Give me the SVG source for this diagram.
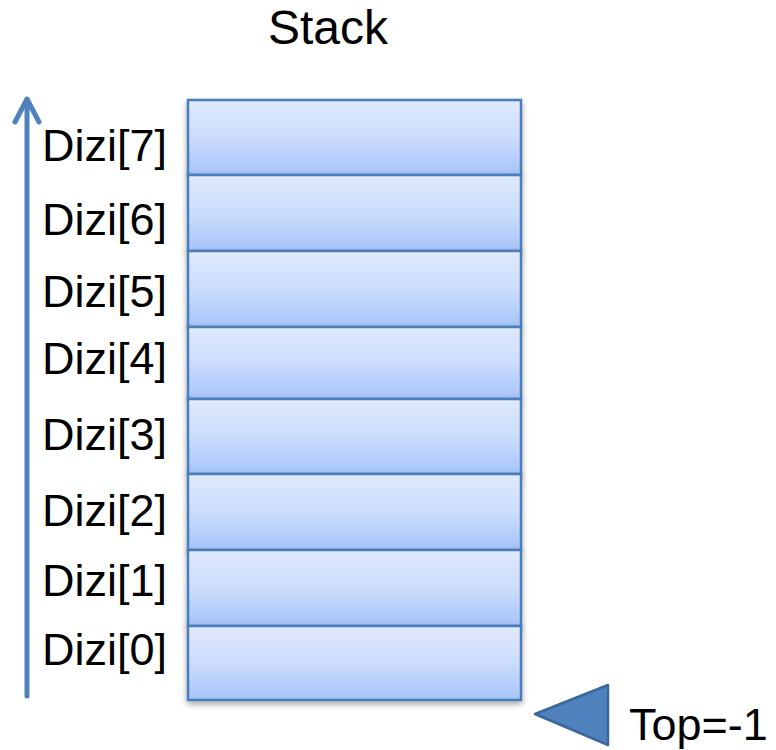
<svg xmlns="http://www.w3.org/2000/svg" width="776" height="750" viewBox="0 0 776 750">
<defs>
<linearGradient id="g" x1="0" y1="0" x2="0" y2="1">
<stop offset="0" stop-color="#e1eafd"/>
<stop offset="0.5" stop-color="#cbdcfc"/>
<stop offset="1" stop-color="#a6c4fa"/>
</linearGradient>
<filter id="sh" x="-10%" y="-20%" width="120%" height="150%">
<feGaussianBlur in="SourceAlpha" stdDeviation="3"/>
<feOffset dx="0" dy="3" result="b"/>
<feComponentTransfer><feFuncA type="linear" slope="0.35"/></feComponentTransfer>
<feMerge><feMergeNode/><feMergeNode in="SourceGraphic"/></feMerge>
</filter>
</defs>
<style>
.cell{fill:url(#g);stroke:#4a7ebb;stroke-width:2.5;filter:url(#sh)}
.lbl{font-family:"Liberation Sans",Arial,sans-serif;font-size:45px;fill:#000}
.conn{stroke:#4f81bd;stroke-width:5;fill:none;stroke-linecap:round;stroke-linejoin:round}
</style>
<text class="lbl" x="328" y="44" text-anchor="middle" style="font-size:48px">Stack</text>
<g id="cell7"><rect class="cell" x="188" y="100" width="333" height="75"/><text class="lbl" x="42" y="161">Dizi[7]</text></g>
<g id="cell6"><rect class="cell" x="188" y="175" width="333" height="76"/><text class="lbl" x="42" y="235">Dizi[6]</text></g>
<g id="cell5"><rect class="cell" x="188" y="251" width="333" height="76"/><text class="lbl" x="42" y="307">Dizi[5]</text></g>
<g id="cell4"><rect class="cell" x="188" y="327" width="333" height="72"/><text class="lbl" x="42" y="374">Dizi[4]</text></g>
<g id="cell3"><rect class="cell" x="188" y="399" width="333" height="75"/><text class="lbl" x="42" y="450">Dizi[3]</text></g>
<g id="cell2"><rect class="cell" x="188" y="474" width="333" height="76"/><text class="lbl" x="42" y="526">Dizi[2]</text></g>
<g id="cell1"><rect class="cell" x="188" y="550" width="333" height="76"/><text class="lbl" x="42" y="596">Dizi[1]</text></g>
<g id="cell0"><rect class="cell" x="188" y="626" width="333" height="74"/><text class="lbl" x="42" y="665">Dizi[0]</text></g>
<g id="top"><polygon points="535,714 608,685 608,745" fill="#4f81bd" stroke="#3c679c" stroke-width="2.5" stroke-linejoin="round"/><text class="lbl" x="629" y="740">Top=-1</text></g>
<g id="connectors">
<line class="conn" x1="27" y1="696" x2="27" y2="100"/>
<polyline class="conn" points="15,122 27,99 39,122"/>
</g>
</svg>
